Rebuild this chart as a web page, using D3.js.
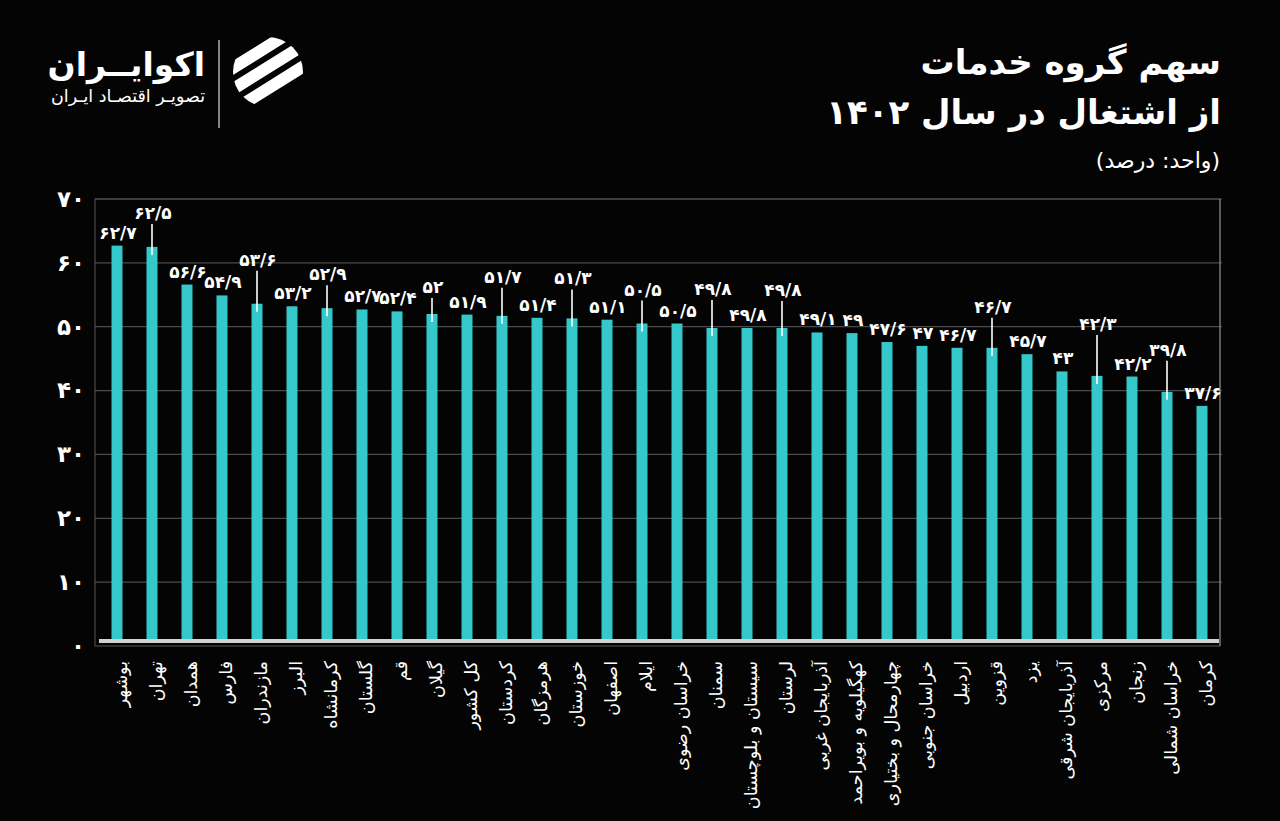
<!DOCTYPE html>
<html>
<head>
<meta charset="utf-8">
<script src="https://cdn.jsdelivr.net/npm/d3@7"></script>
<style>
  html, body { margin: 0; padding: 0; background: #040404; }
  svg { display: block; font-family: "DejaVu Sans", sans-serif; }
</style>
</head>
<body>
<div id="chart"></div>
<script>
// provinces, ordered as in the chart
const provinces = [
  'بوشهر', 'تهران', 'همدان', 'فارس', 'مازندران', 'البرز', 'کرمانشاه', 'گلستان',
  'قم', 'گیلان', 'کل کشور', 'کردستان', 'هرمزگان', 'خوزستان', 'اصفهان', 'ایلام',
  'خراسان رضوی', 'سمنان', 'سیستان و بلوچستان', 'لرستان', 'آذربایجان غربی',
  'کهگیلویه و بویراحمد', 'چهارمحال و بختیاری', 'خراسان جنوبی', 'اردبیل', 'قزوین',
  'یزد', 'آذربایجان شرقی', 'مرکزی', 'زنجان', 'خراسان شمالی', 'کرمان'
];

// share of services in employment (%)
const serviceShare = [
  62.7, 62.5, 56.6, 54.9, 53.6, 53.2, 52.9, 52.7,
  52.4, 52, 51.9, 51.7, 51.4, 51.3, 51.1, 50.5,
  50.5, 49.8, 49.8, 49.8, 49.1,
  49, 47.6, 47, 46.7, 46.7,
  45.7, 43, 42.3, 42.2, 39.8, 37.6
];

const yTicks = [0, 10, 20, 30, 40, 50, 60, 70];

const titleLines = ['سهم گروه خدمات', 'از اشتغال در سال ۱۴۰۲'];
const unitText = '(واحد: درصد)';

const toFa = s => String(s).replace(/\d/g, d => '۰۱۲۳۴۵۶۷۸۹'[d]).replace('.', '/');

const W = 1280, H = 821;
const plot = {left: 95, right: 1220, top: 199, bottom: 646, base: 639};

const svg = d3.select('#chart').append('svg')
  .attr('width', W)
  .attr('height', H);

svg.append('rect').attr('width', W).attr('height', H).attr('fill', '#040404');

// scales
const x = d3.scaleBand()
  .domain(provinces)
  .range([99.5, 1219.5])
  .paddingInner(0.686)
  .paddingOuter(0.343);

const y = d3.scaleLinear()
  .domain([0, 70])
  .range([plot.bottom, plot.top]);

// grid
svg.append('g')
  .selectAll('line')
  .data(yTicks.filter(t => t > 0))
  .join('line')
  .attr('x1', plot.left)
  .attr('x2', plot.right + 2)
  .attr('y1', d => y(d))
  .attr('y2', d => y(d))
  .attr('stroke', '#4a4a4a')
  .attr('stroke-width', 1.2);

// frame
svg.append('rect')
  .attr('x', plot.left)
  .attr('y', plot.top)
  .attr('width', plot.right - plot.left)
  .attr('height', plot.bottom - plot.top)
  .attr('fill', 'none')
  .attr('stroke', '#555')
  .attr('stroke-width', 1);

svg.append('line')
  .attr('x1', plot.right).attr('x2', plot.right)
  .attr('y1', plot.top).attr('y2', plot.bottom)
  .attr('stroke', '#8a8a8a');

// y axis labels
const yAxis = svg.append('g')
  .attr('transform', 'translate(85,0)')
  .call(d3.axisLeft(y).tickValues(yTicks).tickSize(0).tickPadding(0).tickFormat(toFa));
yAxis.select('.domain').remove();
yAxis.selectAll('text')
  .attr('fill', '#fff')
  .style('font-size', '23px')
  .style('font-weight', 'bold')
  .style('font-family', '"DejaVu Sans", sans-serif');

// bars
svg.append('g')
  .selectAll('rect')
  .data(serviceShare)
  .join('rect')
  .attr('x', (d, i) => x(provinces[i]))
  .attr('y', d => y(d))
  .attr('width', x.bandwidth())
  .attr('height', d => plot.base - y(d))
  .attr('fill', '#34c8cb');

// baseline
svg.append('rect')
  .attr('x', 99)
  .attr('y', plot.base)
  .attr('width', 1120)
  .attr('height', 4)
  .attr('fill', '#d2d2d2');

// value labels; some are lifted with a leader line so they don't collide
const lift = {1: 28, 4: 38, 6: 28, 9: 21, 11: 33, 13: 34, 15: 28, 17: 33, 19: 32, 25: 35, 28: 46, 30: 36};

const labels = svg.append('g');
serviceShare.forEach((v, i) => {
  const cx = x(provinces[i]) + x.bandwidth() / 2;
  const top = y(v);
  const up = lift[i] || 7;
  labels.append('text')
    .attr('x', cx + 1)
    .attr('y', top - up)
    .attr('text-anchor', 'middle')
    .attr('fill', '#fff')
    .style('font-size', '17px')
    .style('font-weight', 'bold')
    .style('letter-spacing', '-0.3px')
    .text(toFa(v));
  if (lift[i]) {
    labels.append('line')
      .attr('x1', cx).attr('x2', cx)
      .attr('y1', top - up + 5)
      .attr('y2', top + 8)
      .attr('stroke', '#fff')
      .attr('stroke-width', 1.6);
  }
});

// category labels, rotated
const xAxis = svg.append('g')
  .attr('transform', 'translate(0,661)')
  .call(d3.axisBottom(x).tickSize(0).tickPadding(0));
xAxis.select('.domain').remove();
xAxis.selectAll('text')
  .attr('x', 0)
  .attr('y', 0)
  .attr('dy', '0.55em')
  .attr('transform', 'rotate(-90)')
  .attr('text-anchor', 'end')
  .attr('fill', '#fff')
  .style('font-size', '17.5px')
  .style('font-family', '"DejaVu Sans", sans-serif');

// title
svg.append('g')
  .selectAll('text')
  .data(titleLines)
  .join('text')
  .attr('x', 1221)
  .attr('y', (d, i) => 74 + i * 50)
  .attr('text-anchor', 'end')
  .attr('fill', '#fff')
  .style('font-size', '34px')
  .style('font-weight', 'bold')
  .text(d => d);

svg.append('text')
  .attr('x', 1220)
  .attr('y', 168)
  .attr('text-anchor', 'end')
  .attr('fill', '#fff')
  .style('font-size', '22px')
  .text(unitText);

// logo
const logo = svg.append('g');
logo.append('text')
  .attr('x', 205).attr('y', 76)
  .attr('text-anchor', 'end')
  .attr('fill', '#fff')
  .style('font-size', '33px')
  .style('font-weight', 'bold')
  .text('اکوایــران');
logo.append('text')
  .attr('x', 205).attr('y', 102)
  .attr('text-anchor', 'end')
  .attr('fill', '#fff')
  .style('font-size', '17.5px')
  .text('تصویـر اقتصـاد ایـران');
logo.append('line')
  .attr('x1', 219).attr('x2', 219)
  .attr('y1', 40).attr('y2', 128)
  .attr('stroke', '#ddd')
  .attr('stroke-width', 1.2);

const clip = svg.append('defs').append('clipPath').attr('id', 'logo-clip');
clip.append('circle').attr('cx', 268).attr('cy', 72).attr('r', 35);
const icon = logo.append('g').attr('clip-path', 'url(#logo-clip)');
[-22, -4, 14].forEach(off => {
  icon.append('rect')
    .attr('x', 220).attr('y', 72 + off - 6)
    .attr('width', 100).attr('height', 12)
    .attr('rx', 6)
    .attr('fill', '#fff')
    .attr('transform', 'rotate(-32,268,72)');
});
</script>
</body>
</html>
